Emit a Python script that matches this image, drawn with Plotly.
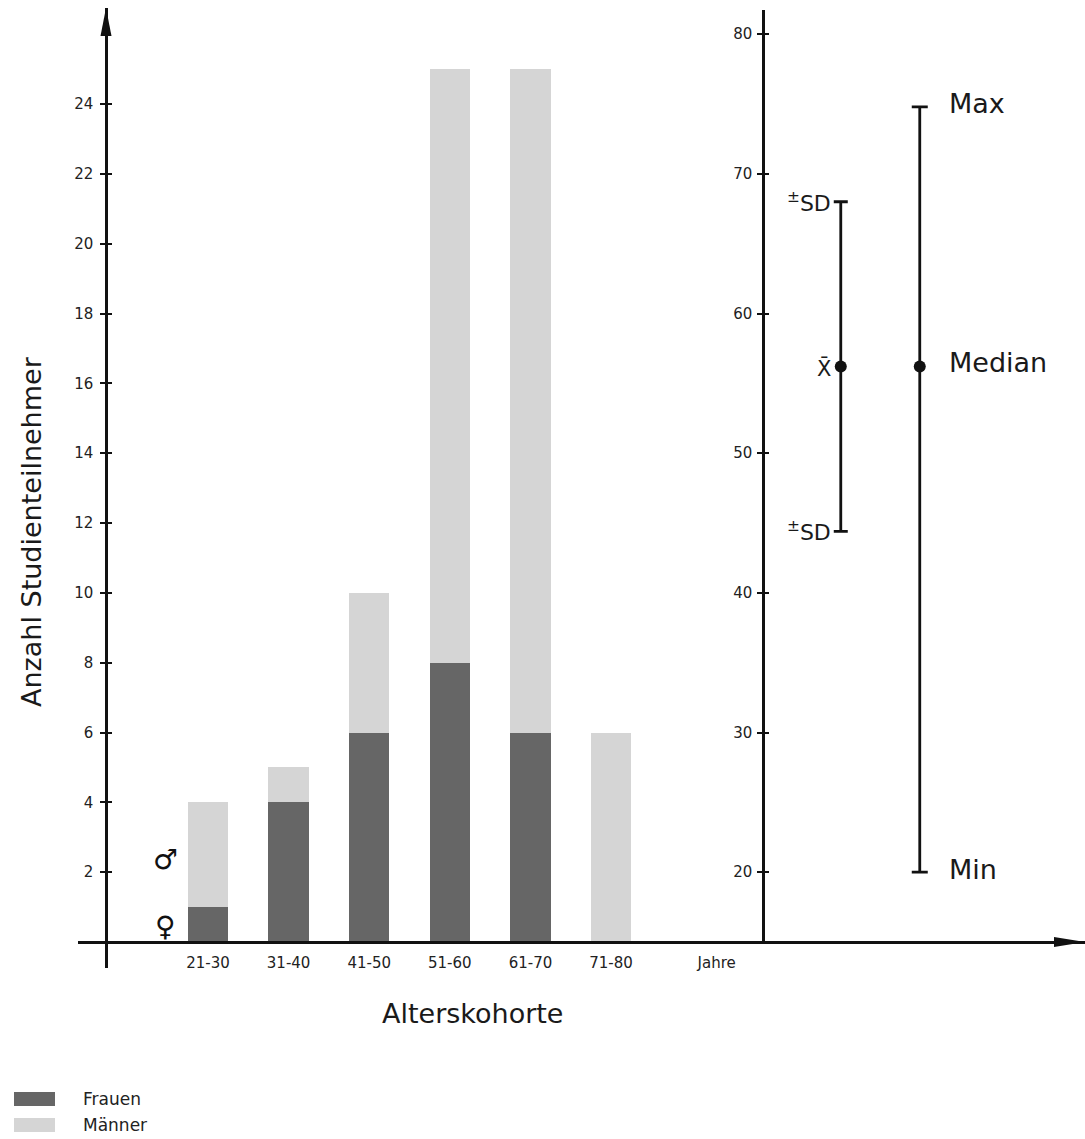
import plotly.graph_objects as go

# ---- data -------------------------------------------------------------
kohorten = ["21-30", "31-40", "41-50", "51-60", "61-70", "71-80"]
frauen = [1, 4, 6, 8, 6, 0]
maenner = [3, 1, 4, 17, 19, 6]
serien_namen = ["Frauen", "Männer"]

count_ticks = [2, 4, 6, 8, 10, 12, 14, 16, 18, 20, 22, 24]
age_ticks = [20, 30, 40, 50, 60, 70, 80]

alter_mittel = 56.2
alter_sd = 11.8
alter_median = 56.2
alter_min = 20
alter_max = 74.8

# ---- layout geometry ----------------------------------------------------
W, H = 1085, 1139
ML, MR, MT, MB = 78, 0, 8, 171
PW, PH = W - ML - MR, H - MT - MB

def px(xp):
    return (xp - ML) / PW

def py(yp):
    return (H - MB - yp) / PH

X_RANGE = [-0.613, 11.88]
Y_RANGE = [-0.745, 26.75]
AXIS_Y = py(942)              # baseline of both panels
Y2_DOMAIN = [AXIS_Y, py(10)]
Y2_RANGE = [15, 81.73]

SD_X = 8.85
SPAN_X = 9.83
JAHRE_X = 7.31

DARK = "#666666"
LIGHT = "#d5d5d5"
INK = "#111111"
TICK_FONT = dict(family="DejaVu Sans", size=15, color="#222222")
BIG_FONT = dict(family="DejaVu Sans", size=27, color="#1a1a1a")

xs = list(range(1, len(kohorten) + 1))

fig = go.Figure()
fig.add_trace(go.Bar(x=xs, y=frauen, name=serien_namen[0], marker_color=DARK,
                     marker_line_width=0, width=0.5, showlegend=False))
fig.add_trace(go.Bar(x=xs, y=maenner, name=serien_namen[1], marker_color=LIGHT,
                     marker_line_width=0, width=0.5, showlegend=False))

# mean +/- SD
fig.add_trace(go.Scatter(
    x=[SD_X], y=[alter_mittel], yaxis="y2", mode="markers",
    marker=dict(color=INK, size=12),
    error_y=dict(type="data", array=[alter_sd], symmetric=True,
                 color=INK, thickness=2.8, width=7),
    showlegend=False, hoverinfo="skip"))
# median with min / max
fig.add_trace(go.Scatter(
    x=[SPAN_X], y=[alter_median], yaxis="y2", mode="markers",
    marker=dict(color=INK, size=12),
    error_y=dict(type="data", array=[alter_max - alter_median],
                 arrayminus=[alter_median - alter_min], symmetric=False,
                 color=INK, thickness=2.8, width=8),
    showlegend=False, hoverinfo="skip"))

# empty traces so the overlay axes (inner tick halves) get drawn
fig.add_trace(go.Scatter(x=[], y=[], yaxis="y3", showlegend=False))
fig.add_trace(go.Scatter(x=[], y=[], yaxis="y4", showlegend=False))

axis_common = dict(showgrid=False, zeroline=False, linecolor=INK, linewidth=2.5,
                   tickcolor=INK, tickwidth=1.5, tickfont=TICK_FONT, fixedrange=True)

fig.update_layout(
    width=W, height=H,
    margin=dict(l=ML, r=MR, t=MT, b=MB),
    paper_bgcolor="white", plot_bgcolor="rgba(0,0,0,0)",
    barmode="stack", showlegend=False,
    xaxis=dict(range=X_RANGE, anchor="free", position=AXIS_Y,
               showgrid=False, zeroline=False, showline=True,
               linecolor=INK, linewidth=2.5, ticks="",
               tickvals=xs + [JAHRE_X], ticktext=kohorten + ["Jahre"],
               tickfont=TICK_FONT, ticklabelstandoff=6, fixedrange=True),
    yaxis=dict(range=Y_RANGE, anchor="free", position=px(106), side="left",
               showline=True, ticks="outside", ticklen=5,
               tickvals=count_ticks, ticklabelstandoff=4, **axis_common),
    yaxis3=dict(range=Y_RANGE, overlaying="y", anchor="free", position=px(106),
                side="left", showline=False, ticks="inside", ticklen=5,
                tickvals=count_ticks, showticklabels=False, **axis_common),
    yaxis2=dict(range=Y2_RANGE, domain=Y2_DOMAIN, anchor="free", position=px(763),
                side="left", showline=True, ticks="outside", ticklen=5,
                tickvals=age_ticks, ticklabelstandoff=2, **axis_common),
    yaxis4=dict(range=Y2_RANGE, overlaying="y2", anchor="free", position=px(763),
                side="left", showline=False, ticks="inside", ticklen=5,
                tickvals=age_ticks, showticklabels=False, **axis_common),
)

# arrow heads on the count axis and on the shared baseline
fig.add_shape(type="path", xref="paper", yref="paper",
              path=f"M {px(106)} {py(8)} L {px(100.5)} {py(36)} L {px(111.5)} {py(36)} Z",
              fillcolor=INK, line=dict(width=0))
fig.add_shape(type="path", xref="paper", yref="paper",
              path=f"M {px(1085)} {py(942)} L {px(1054)} {py(937)} L {px(1054)} {py(947)} Z",
              fillcolor=INK, line=dict(width=0))

ann = []
# axis titles
ann.append(dict(x=px(31), y=py(532), xref="paper", yref="paper",
                xanchor="center", yanchor="middle",
                text="Anzahl Studienteilnehmer", textangle=-90, showarrow=False,
                font=BIG_FONT))
ann.append(dict(x=px(472), y=py(1013), xref="paper", yref="paper",
                xanchor="center", yanchor="middle",
                text="Alterskohorte", showarrow=False, font=BIG_FONT))
# gender symbols
ann.append(dict(x=0.47, y=2.35, xref="x", yref="y", text="♂", showarrow=False,
                xanchor="center", yanchor="middle",
                font=dict(family="DejaVu Sans", size=28, color=INK)))
ann.append(dict(x=0.47, y=0.45, xref="x", yref="y", text="♀", showarrow=False,
                xanchor="center", yanchor="middle",
                font=dict(family="DejaVu Sans", size=28, color=INK)))
# statistic labels
for txt, yv, dy in [("Max", alter_max, 3), ("Median", alter_median, 4), ("Min", alter_min, 3)]:
    ann.append(dict(x=SPAN_X, y=yv, xref="x", yref="y2", text=txt, showarrow=False,
                    xanchor="left", yanchor="middle", xshift=27, yshift=dy,
                    font=BIG_FONT))
for yv in [alter_mittel + alter_sd, alter_mittel - alter_sd]:
    ann.append(dict(x=SD_X, y=yv, xref="x", yref="y2", text="<sup>±</sup>SD",
                    showarrow=False, xanchor="right", yanchor="middle", xshift=-8,
                    font=dict(family="DejaVu Sans", size=22, color="#1a1a1a")))
ann.append(dict(x=SD_X, y=alter_mittel, xref="x", yref="y2", text="X\u0304",
                showarrow=False, xanchor="right", yanchor="middle", xshift=-8, yshift=-2,
                font=dict(family="DejaVu Sans", size=21, color="#1a1a1a")))

# legend
for name, col, ytop in [(serien_namen[0], DARK, 1092), (serien_namen[1], LIGHT, 1118)]:
    fig.add_shape(type="rect", xref="paper", yref="paper",
                  x0=px(14), x1=px(55), y0=py(ytop), y1=py(ytop + 14),
                  fillcolor=col, line=dict(width=0))
    ann.append(dict(x=px(81), y=py(ytop + 7), xref="paper", yref="paper",
                    text=name, showarrow=False, xanchor="left", yanchor="middle",
                    font=dict(family="DejaVu Sans", size=17, color="#222222")))

fig.update_layout(annotations=ann)
fig.write_html("out.html")
